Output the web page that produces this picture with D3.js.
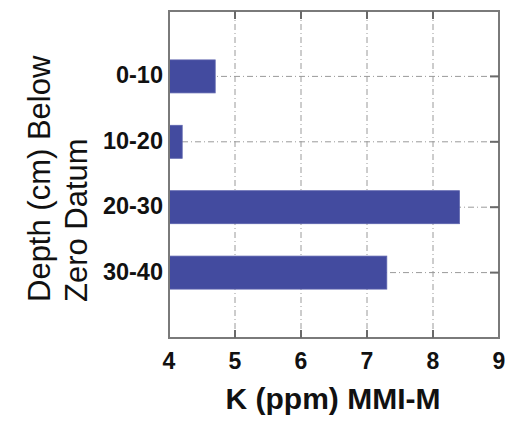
<!DOCTYPE html>
<html>
<head>
<meta charset="utf-8">
<script src="https://cdn.jsdelivr.net/npm/d3@7"></script>
<style>
  html, body { margin: 0; padding: 0; background: #fff; }
  svg { display: block; }
  text { font-family: "Liberation Sans", Arial, Helvetica, sans-serif; fill: #111; }
</style>
</head>
<body>
<svg id="chart" width="505" height="423"></svg>
<script>
// Depth intervals (cm below zero datum) and K concentrations (ppm, MMI-M)
const depths = ["0-10", "10-20", "20-30", "30-40"];
const kValues = [4.7, 4.2, 8.4, 7.3];
const xTicks = [4, 5, 6, 7, 8, 9];
const xTitle = "K (ppm) MMI-M";
const yTitleLines = ["Depth (cm) Below", "Zero Datum"];

const svg = d3.select("#chart");
const plotLeft = 169, plotRight = 499, plotTop = 11, plotBottom = 338;

const x = d3.scaleLinear().domain([4, 9]).range([plotLeft, plotRight]);
const y = d3.scalePoint().domain(depths).range([plotTop, plotBottom]).padding(1);
const barH = 33;

const gridColor = "#9a9a9a";
const dash = "6,3,1,3";
const inner = xTicks.filter(t => t > 4 && t < 9);

// gridlines
svg.append("g").selectAll("line")
  .data(inner)
  .join("line")
  .attr("x1", d => x(d)).attr("x2", d => x(d))
  .attr("y1", plotTop).attr("y2", plotBottom)
  .attr("stroke", gridColor).attr("stroke-width", 1)
  .attr("stroke-dasharray", dash);

svg.append("g").selectAll("line")
  .data(depths)
  .join("line")
  .attr("x1", plotLeft).attr("x2", plotRight)
  .attr("y1", d => y(d)).attr("y2", d => y(d))
  .attr("stroke", gridColor).attr("stroke-width", 1)
  .attr("stroke-dasharray", dash);

// bars
svg.append("g").selectAll("rect")
  .data(depths.map((d, i) => ({ depth: d, v: kValues[i] })))
  .join("rect")
  .attr("x", x(4))
  .attr("y", d => y(d.depth) - barH / 2)
  .attr("width", d => x(d.v) - x(4))
  .attr("height", barH)
  .attr("fill", "#434b9f")
  .attr("stroke", "#5c63ad")
  .attr("stroke-width", 0.8);

// frame
svg.append("rect")
  .attr("x", plotLeft).attr("y", plotTop)
  .attr("width", plotRight - plotLeft).attr("height", plotBottom - plotTop)
  .attr("fill", "none").attr("stroke", "#7a7a7a").attr("stroke-width", 2);

// inward tick marks: top and bottom
const tickColor = "#6a6a6a";
svg.append("g").selectAll("line")
  .data(inner).join("line")
  .attr("x1", d => x(d)).attr("x2", d => x(d))
  .attr("y1", plotTop).attr("y2", plotTop + 8)
  .attr("stroke", tickColor).attr("stroke-width", 2);
svg.append("g").selectAll("line")
  .data(inner).join("line")
  .attr("x1", d => x(d)).attr("x2", d => x(d))
  .attr("y1", plotBottom).attr("y2", plotBottom - 8)
  .attr("stroke", tickColor).attr("stroke-width", 2);
// right side ticks
svg.append("g").selectAll("line")
  .data(depths).join("line")
  .attr("x1", plotRight).attr("x2", plotRight - 9)
  .attr("y1", d => y(d)).attr("y2", d => y(d))
  .attr("stroke", tickColor).attr("stroke-width", 2);

// x tick labels
svg.append("g").selectAll("text")
  .data(xTicks).join("text")
  .attr("x", d => x(d)).attr("y", 369)
  .attr("text-anchor", "middle")
  .attr("font-size", 23).attr("font-weight", "bold")
  .text(d => d);

// y category labels
svg.append("g").selectAll("text")
  .data(depths).join("text")
  .attr("x", plotLeft - 6).attr("y", d => y(d))
  .attr("dy", "0.3em")
  .attr("text-anchor", "end")
  .attr("font-size", 23.5).attr("font-weight", "bold")
  .text(d => d);

// axis titles
svg.append("text")
  .attr("x", (plotLeft + plotRight) / 2 - 1).attr("y", 409)
  .attr("text-anchor", "middle")
  .attr("font-size", 30).attr("font-weight", "bold")
  .text(xTitle);

const yt = svg.append("g").attr("transform", "translate(0,302) rotate(-90)");
yt.selectAll("text")
  .data(yTitleLines).join("text")
  .attr("x", 0).attr("y", (d, i) => 50 + i * 37)
  .attr("text-anchor", "start")
  .attr("font-size", 31)
  .text(d => d);
</script>
</body>
</html>
